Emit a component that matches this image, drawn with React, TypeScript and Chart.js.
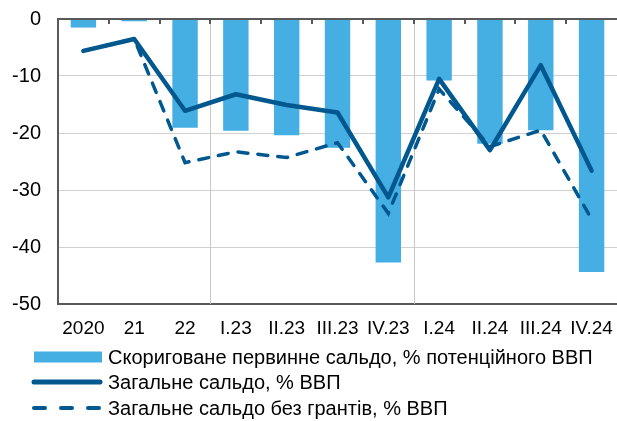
import React, { useEffect, useRef } from "react";
import { Chart, registerables } from "chart.js";

Chart.register(...registerables);

const categories = ["2020", "21", "22", "I.23", "II.23", "III.23", "IV.23", "I.24", "II.24", "III.24", "IV.24"];
const adjustedPrimary = [-1.5, -0.4, -19.1, -19.6, -20.4, -22.6, -42.7, -10.8, -21.9, -19.5, -44.4];
const overallBalance = [-5.6, -3.5, -16.1, -13.2, -15.1, -16.4, -31.3, -10.5, -23.0, -8.1, -26.6];
const balanceExGrants = [-5.6, -3.5, -25.2, -23.3, -24.3, -21.7, -34.1, -12.3, -22.4, -19.5, -35.1];
const yTicks = [0, -10, -20, -30, -40, -50];
const legendLabels = [
  "Скориговане первинне сальдо, % потенційного ВВП",
  "Загальне сальдо, % ВВП",
  "Загальне сальдо без грантів, % ВВП",
];
const yearSeparators = [3, 7];

const BAR = "#45aee3";
const LINE = "#00588f";
const FONT = "'Liberation Sans', Arial, sans-serif";

const customPlugin = {
  id: "custom",
  beforeDatasetsDraw(chart: any) {
    const { ctx, chartArea } = chart;
    const n = categories.length;
    const w = (chartArea.right - chartArea.left) / n;
    ctx.save();
    ctx.strokeStyle = "#c8c8c8";
    ctx.lineWidth = 1;
    yearSeparators.forEach((i) => {
      const px = Math.round(chartArea.left + i * w) + 0.5;
      ctx.beginPath();
      ctx.moveTo(px, chartArea.top);
      ctx.lineTo(px, chartArea.bottom);
      ctx.stroke();
    });
    ctx.restore();
  },
  afterDatasetsDraw(chart: any) {
    const { ctx, chartArea } = chart;
    const n = categories.length;
    const w = (chartArea.right - chartArea.left) / n;
    ctx.save();
    ctx.strokeStyle = "#595959";
    ctx.lineWidth = 2;
    for (let i = 1; i < n; i++) {
      const px = Math.round(chartArea.left + i * w);
      ctx.beginPath();
      ctx.moveTo(px, chartArea.top);
      ctx.lineTo(px, chartArea.top + 5);
      ctx.stroke();
    }
    ctx.restore();
  },
  afterDraw(chart: any) {
    const { ctx } = chart;
    ctx.save();
    ctx.font = `20px ${FONT}`;
    ctx.textBaseline = "middle";
    const sx = 34;
    const ex = 102;
    const tx = 108;
    const rows = [357, 382, 408];
    ctx.fillStyle = BAR;
    ctx.fillRect(sx, rows[0] - 5.5, ex - sx, 11);
    ctx.strokeStyle = LINE;
    ctx.lineCap = "round";
    ctx.lineWidth = 5;
    ctx.beginPath();
    ctx.moveTo(sx, rows[1]);
    ctx.lineTo(ex - 2, rows[1]);
    ctx.stroke();
    ctx.lineWidth = 4;
    ctx.setLineDash([11, 16]);
    ctx.beginPath();
    ctx.moveTo(sx, rows[2]);
    ctx.lineTo(ex - 2, rows[2]);
    ctx.stroke();
    ctx.setLineDash([]);
    ctx.fillStyle = "#000";
    legendLabels.forEach((t, i) => ctx.fillText(t, tx, rows[i] + 1));
    ctx.restore();
  },
};

export default function App() {
  const ref = useRef<HTMLCanvasElement | null>(null);
  useEffect(() => {
    if (!ref.current) return;
    const chart = new Chart(ref.current, {
      type: "bar",
      data: {
        labels: categories,
        datasets: [
          {
            type: "line",
            label: legendLabels[1],
            data: overallBalance,
            borderColor: LINE,
            borderWidth: 4.5,
            pointRadius: 0,
            tension: 0,
            borderCapStyle: "round",
            borderJoinStyle: "round",
            order: 0,
          } as any,
          {
            type: "line",
            label: legendLabels[2],
            data: balanceExGrants,
            borderColor: LINE,
            borderWidth: 3.5,
            borderDash: [10, 10],
            pointRadius: 0,
            tension: 0,
            borderCapStyle: "round",
            order: 1,
          } as any,
          {
            type: "bar",
            label: legendLabels[0],
            data: adjustedPrimary,
            backgroundColor: BAR,
            categoryPercentage: 1,
            barPercentage: 0.5,
            order: 2,
          },
        ],
      },
      options: {
        animation: false,
        responsive: false,
        maintainAspectRatio: false,
        layout: { padding: { top: 19, right: 0, bottom: 77, left: 0 } },
        plugins: { legend: { display: false }, tooltip: { enabled: false } },
        scales: {
          x: {
            type: "category",
            offset: true,
            grid: { display: true, color: "rgba(0,0,0,0)", drawTicks: true, tickLength: 13, drawOnChartArea: false },
            border: { display: false },
            ticks: {
              color: "#000",
              font: { family: FONT, size: 19 },
              padding: 0,
              maxRotation: 0,
              autoSkip: false,
            },
            afterFit: (s: any) => {
              s.height = 40;
              s.paddingLeft = 0;
              s.paddingRight = 0;
            },
          },
          y: {
            min: -50,
            max: 0,
            afterBuildTicks: (s: any) => {
              s.ticks = yTicks.map((v) => ({ value: v }));
            },
            grid: {
              drawTicks: false,
              color: (c: any) => (c.tick && (c.tick.value === 0 || c.tick.value === -50) ? "#595959" : "#d0d0d0"),
              lineWidth: (c: any) => (c.tick && (c.tick.value === 0 || c.tick.value === -50) ? 2 : 1),
            },
            border: { display: true, color: "#595959", width: 2 },
            ticks: {
              color: "#000",
              font: { family: FONT, size: 20 },
              padding: 17,
            },
            afterFit: (s: any) => {
              s.width = 58;
              s.paddingTop = 0;
              s.paddingBottom = 0;
            },
          },
        },
      },
      plugins: [customPlugin],
    });
    return () => chart.destroy();
  }, []);
  return (
    <div style={{ position: "fixed", left: 0, top: 0, width: 617, height: 421, background: "#fff" }}>
      <canvas ref={ref} width={617} height={421} style={{ display: "block" }} />
    </div>
  );
}
